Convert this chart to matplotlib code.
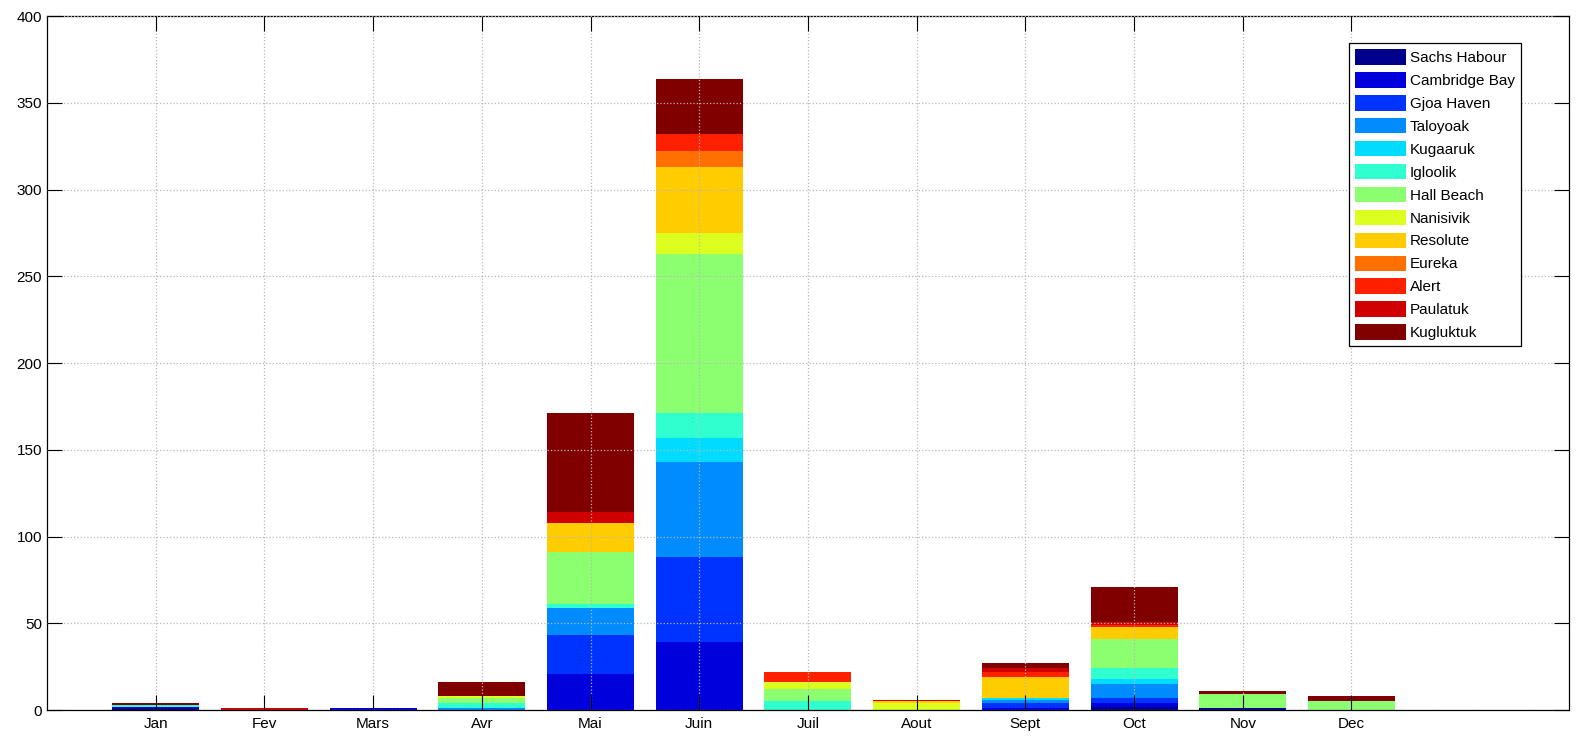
import numpy as np
from matplotlib import pyplot as plt

plt.rcParams['font.family'] = ['Liberation Sans', 'DejaVu Sans']

months = ['Jan', 'Fev', 'Mars', 'Avr', 'Mai', 'Juin', 'Juil', 'Aout', 'Sept', 'Oct', 'Nov', 'Dec']
stations = ['Sachs Habour', 'Cambridge Bay', 'Gjoa Haven', 'Taloyoak', 'Kugaaruk', 'Igloolik',
            'Hall Beach', 'Nanisivik', 'Resolute', 'Eureka', 'Alert', 'Paulatuk', 'Kugluktuk']

sachs_habour = [1, 0, 0, 0, 0, 0, 0, 0, 0, 2, 1, 0]
cambridge_bay = [1, 0, 1, 0, 21, 39, 0, 0, 1, 2, 0, 0]
gjoa_haven = [0, 0, 0, 0, 22, 49, 0, 0, 3, 3, 0, 0]
taloyoak = [0, 0, 0, 1, 16, 55, 0, 0, 2, 8, 0, 0]
kugaaruk = [0, 0, 0, 0, 0, 14, 0, 0, 1, 3, 0, 0]
igloolik = [1, 0, 0, 3, 2, 14, 5, 0, 0, 6, 0, 0]
hall_beach = [0, 0, 0, 3, 30, 92, 7, 0, 0, 17, 8, 5]
nanisivik = [0, 0, 0, 1, 0, 12, 4, 4, 0, 0, 0, 0]
resolute = [0, 0, 0, 0, 17, 38, 0, 1, 12, 7, 0, 0]
eureka = [0, 0, 0, 0, 0, 9, 0, 0, 0, 0, 0, 0]
alert = [0, 0, 0, 0, 0, 10, 6, 0, 3, 1, 0, 0]
paulatuk = [0, 1, 0, 0, 6, 0, 0, 1, 2, 2, 0, 0]
kugluktuk = [1, 0, 0, 8, 57, 32, 0, 0, 3, 20, 2, 3]

series = [sachs_habour, cambridge_bay, gjoa_haven, taloyoak, kugaaruk, igloolik,
          hall_beach, nanisivik, resolute, eureka, alert, paulatuk, kugluktuk]

# jet-like colours, one per station
colors = ['#00008c', '#0000dc', '#0033ff', '#008cff', '#00dcff', '#30ffd0', '#8cff70',
          '#dcff20', '#ffcc00', '#ff7000', '#ff2000', '#d00000', '#800000']

fig = plt.figure(figsize=(15.76, 7.43), dpi=100)
ax = fig.add_axes([0.0298, 0.0444, 0.9657, 0.934])

x = np.arange(1, len(months) + 1)
bottom = np.zeros(len(months))
for name, vals, col in zip(stations, series, colors):
    ax.bar(x, vals, width=0.8, bottom=bottom, color=col, edgecolor='none', label=name)
    bottom += np.array(vals)

ax.set_xlim(0, 14)
ax.set_ylim(0, 400)
ax.set_xticks(x)
ax.set_xticklabels(months)
ax.set_yticks(np.arange(0, 401, 50))
ax.tick_params(direction='in', length=11, width=0.8, top=True, right=True, labelsize=11)
ax.tick_params(axis='x', pad=5)
ax.grid(True, linestyle=':', color='#b8b8b8', linewidth=0.9)
ax.set_axisbelow(False)
for sp in ax.spines.values():
    sp.set_linewidth(0.9)

leg = ax.legend(loc='upper right', bbox_to_anchor=(0.9685, 0.961), borderaxespad=0,
                fontsize=11, fancybox=False, framealpha=1, edgecolor='black',
                handlelength=3.3, handleheight=1.18, labelspacing=0.46, handletextpad=0.28,
                borderpad=0.4)
leg.get_frame().set_linewidth(0.9)

plt.savefig('out.png', dpi=100)
